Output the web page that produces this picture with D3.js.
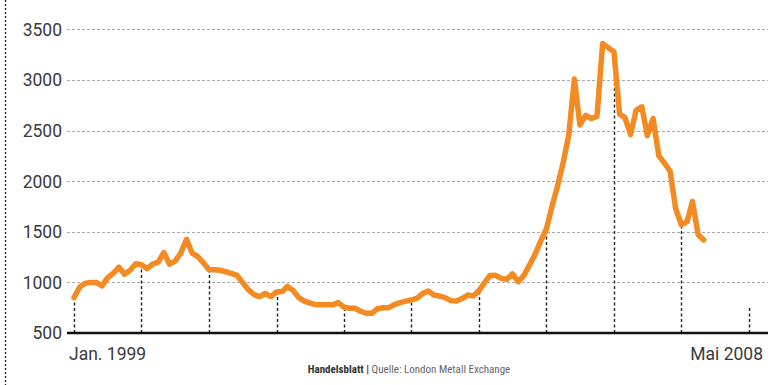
<!DOCTYPE html>
<html>
<head>
<meta charset="utf-8">
<script src="https://cdn.jsdelivr.net/npm/d3@7"></script>
<style>
  body { margin: 0; background: #fff; }
  svg { display: block; }
</style>
</head>
<body>
<div id="container"></div>
<script>
/* CONSTANTS AND GLOBALS */
const width = 780,
  height = 385,
  margin = { top: 29.4, bottom: 52, left: 67, right: 12 };

/* DATA (monthly, Jan. 1999 - Mai 2008) */
const startMonth = new Date(1999, 0, 1);
const endAxis = new Date(2009, 0, 1);

const prices = [
  // 1999
  850, 955, 990, 1000, 1000, 965, 1045, 1090, 1150, 1080, 1120, 1185,
  // 2000
  1175, 1135, 1180, 1200, 1295, 1180, 1210, 1290, 1425, 1290, 1255, 1195,
  // 2001
  1125, 1125, 1120, 1105, 1090, 1070, 1000, 930, 880, 860, 890, 860,
  // 2002
  905, 910, 960, 920, 850, 815, 795, 780, 778, 778, 778, 800,
  // 2003
  755, 745, 745, 715, 695, 695, 740, 750, 750, 780, 800, 815,
  // 2004
  826, 845, 890, 915, 875, 865, 850, 820, 815, 840, 875, 866,
  // 2005
  920, 1000, 1068, 1070, 1040, 1030, 1085, 1007, 1070, 1170, 1280, 1410,
  // 2006
  1530, 1760, 1945, 2180, 2450, 3010, 2555, 2650, 2620, 2640, 3360, 3320,
  // 2007
  3280, 2660, 2630, 2460, 2700, 2735, 2450, 2620, 2250, 2180, 2100, 1730,
  // 2008
  1570, 1600, 1800, 1470, 1420
];

const yTicks = [500, 1000, 1500, 2000, 2500, 3000, 3500];
const yearTicks = d3.range(1999, 2010); // Jan. of each year
const stubValue = 760; // height of the last (empty) year marker
const firstLabel = "Jan. 1999";
const lastLabel = "Mai 2008";

const data = prices.map((v, i) => ({ date: d3.timeMonth.offset(startMonth, i), value: v }));

/* SCALES */
const xScale = d3.scaleTime()
  .domain([startMonth, endAxis])
  .range([74, 749]);

const yScale = d3.scaleLinear()
  .domain([500, 3500])
  .range([height - margin.bottom, margin.top]);

const svg = d3.select("#container")
  .append("svg")
  .attr("width", width)
  .attr("height", height);

// left dotted frame
svg.append("line")
  .attr("x1", 5.5).attr("x2", 5.5)
  .attr("y1", 0).attr("y2", height)
  .attr("stroke", "#222")
  .attr("stroke-width", 1.3)
  .attr("stroke-dasharray", "2,2");

// horizontal grid
svg.append("g")
  .selectAll("line")
  .data(yTicks.filter(d => d > 500))
  .join("line")
  .attr("x1", margin.left)
  .attr("x2", width - margin.right)
  .attr("y1", d => Math.round(yScale(d)) + 0.5)
  .attr("y2", d => Math.round(yScale(d)) + 0.5)
  .attr("stroke", "#aaa")
  .attr("stroke-width", 1)
  .attr("stroke-dasharray", "3,2");

const labelFont = sel => sel
  .style("font-family", "Roboto, 'Open Sans', sans-serif")
  .style("font-size", "17.5px")
  .style("font-weight", 400)
  .attr("fill", "#3a3a3a");

// y labels
svg.append("g")
  .selectAll("text")
  .data(yTicks)
  .join("text")
  .attr("x", 62)
  .attr("y", d => yScale(d))
  .attr("dy", "0.36em")
  .attr("text-anchor", "end")
  .call(labelFont)
  .text(d => d);

// drop lines at each January
const valueAt = yr => {
  const hit = data.find(d => d.date.getFullYear() === yr && d.date.getMonth() === 0);
  return hit ? hit.value : stubValue;
};

svg.append("g")
  .selectAll("line")
  .data(yearTicks)
  .join("line")
  .attr("x1", d => Math.round(xScale(new Date(d, 0, 1))) + 0.5)
  .attr("x2", d => Math.round(xScale(new Date(d, 0, 1))) + 0.5)
  .attr("y1", yScale(500))
  .attr("y2", d => yScale(valueAt(d)))
  .attr("stroke", "#222")
  .attr("stroke-width", 1.4)
  .attr("stroke-dasharray", "3,2.5");

// baseline
svg.append("line")
  .attr("x1", margin.left)
  .attr("x2", width - margin.right)
  .attr("y1", yScale(500))
  .attr("y2", yScale(500))
  .attr("stroke", "#111")
  .attr("stroke-width", 2.6);

// price line
const line = d3.line()
  .x(d => xScale(d.date))
  .y(d => yScale(d.value));

svg.append("path")
  .datum(data)
  .attr("d", line)
  .attr("fill", "none")
  .attr("stroke", "#f48a22")
  .attr("stroke-width", 5.5)
  .attr("stroke-linejoin", "round")
  .attr("stroke-linecap", "round");

// x labels
svg.append("text")
  .attr("x", 69)
  .attr("y", 360)
  .call(labelFont)
  .text(firstLabel);

svg.append("text")
  .attr("x", 763)
  .attr("y", 360)
  .attr("text-anchor", "end")
  .call(labelFont)
  .text(lastLabel);

// source line
const source = svg.append("text")
  .attr("x", 409)
  .attr("y", 373)
  .attr("text-anchor", "middle")
  .style("font-family", "'Liberation Sans Narrow', 'Roboto Condensed', Roboto, sans-serif")
  .style("font-size", "11px");

source.append("tspan")
  .attr("font-weight", 700)
  .attr("fill", "#333")
  .text("Handelsblatt | ");

source.append("tspan")
  .attr("fill", "#666")
  .text("Quelle: London Metall Exchange");
</script>
</body>
</html>
